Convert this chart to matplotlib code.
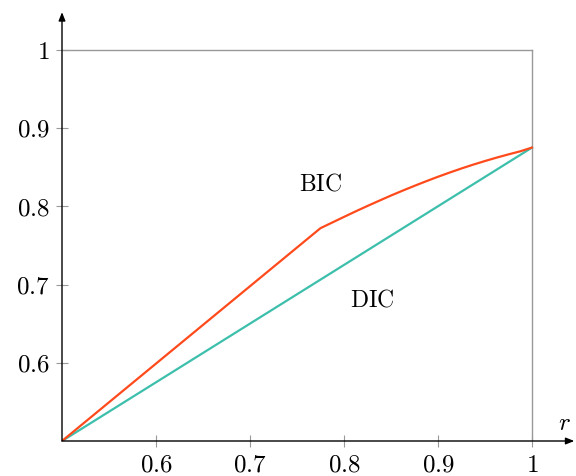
import numpy as np
import matplotlib
matplotlib.use("Agg")
import matplotlib.pyplot as plt

plt.rcParams['mathtext.fontset'] = 'cm'
plt.rcParams['font.family'] = 'serif'
plt.rcParams['font.serif'] = ['DejaVu Serif']

# data
dic_x = [0.5, 1.0]
dic_y = [0.5, 0.875]

bic_x = [0.5, 0.775, 0.7875, 0.80, 0.8125, 0.825, 0.8375, 0.85, 0.8625, 0.875,
         0.8875, 0.90, 0.9125, 0.925, 0.9375, 0.95, 0.9625, 0.975, 0.9875, 1.0]
bic_y = [0.5, 0.772, 0.7792, 0.7864, 0.7935, 0.8004, 0.8071, 0.8137, 0.8200, 0.8261,
         0.8320, 0.8377, 0.8431, 0.8483, 0.8532, 0.8578, 0.8622, 0.8663, 0.8702, 0.875]

ticks = [0.6, 0.7, 0.8, 0.9, 1.0]
tick_labels = [r'$0.6$', r'$0.7$', r'$0.8$', r'$0.9$', r'$1$']

fig = plt.figure(figsize=(5.76, 4.76), dpi=100)
ax = fig.add_axes([62 / 576, 35 / 476, 0.55 * 940 / 576, 0.55 * 782.5 / 476])
ax.set_xlim(0.5, 1.05)
ax.set_ylim(0.5, 1.05)

for s in ax.spines.values():
    s.set_visible(False)

# gray box at r = 1 and value = 1
ax.plot([0.5, 1.0], [1.0, 1.0], color='#999999', lw=1.0, zorder=1)
ax.plot([1.0, 1.0], [0.5, 1.0], color='#999999', lw=1.0, zorder=1)

ax.plot(dic_x, dic_y, color='#3dbfac', lw=1.6, zorder=3)
ax.plot(bic_x, bic_y, color='#ff4a1c', lw=1.6, zorder=3)

# axes with arrow heads
ax.annotate('', xy=(1.045, 0.5), xytext=(0.5, 0.5),
            arrowprops=dict(arrowstyle='-|>,head_length=0.5,head_width=0.2', color='black', lw=1.0,
                            shrinkA=0, shrinkB=0), annotation_clip=False)
ax.annotate('', xy=(0.5, 1.048), xytext=(0.5, 0.5),
            arrowprops=dict(arrowstyle='-|>,head_length=0.5,head_width=0.2', color='black', lw=1.0,
                            shrinkA=0, shrinkB=0), annotation_clip=False)

ax.set_xticks(ticks)
ax.set_xticklabels(tick_labels)
ax.set_yticks(ticks)
ax.set_yticklabels(tick_labels)
ax.tick_params(direction='inout', length=8, width=0.8, color='#999999',
               labelsize=18, pad=5)

ax.text(0.775, 0.828, r'$\mathrm{BIC}$', fontsize=17, ha='center', va='center')
ax.text(0.83, 0.68, r'$\mathrm{DIC}$', fontsize=17, ha='center', va='center')
ax.text(1.035, 0.522, r'$r$', fontsize=18, ha='center', va='center')

fig.savefig('out.png', dpi=100)
